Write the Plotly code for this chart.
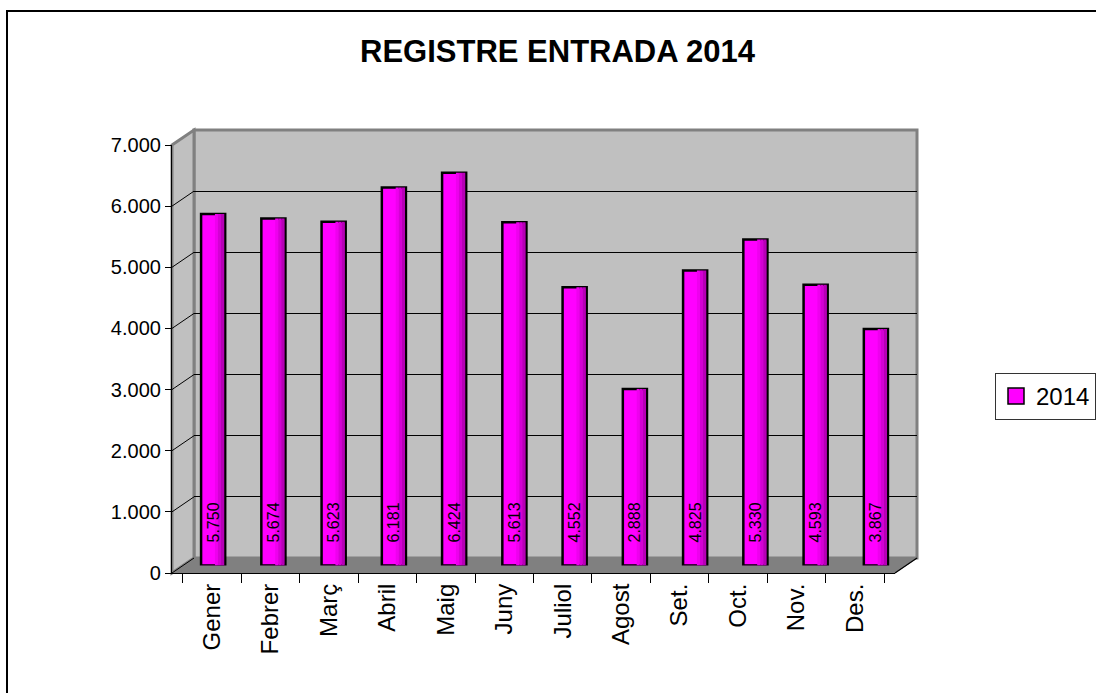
import plotly.graph_objects as go

# ---- data ----
months = ["Gener", "Febrer", "Març", "Abril", "Maig", "Juny",
          "Juliol", "Agost", "Set.", "Oct.", "Nov.", "Des."]
values_2014 = [5750, 5674, 5623, 6181, 6424, 5613, 4552, 2888, 4825, 5330, 4593, 3867]
series_name = "2014"
y_ticks = [0, 1000, 2000, 3000, 4000, 5000, 6000, 7000]
title_text = "REGISTRE ENTRADA 2014"

# ---- layout geometry (pixels) ----
W, H = 1096, 693
FX0, FX1 = 172, 895       # front plane x
FY0, FY1 = 573, 145       # front plane y for 0 / 7000
DX, DY = 22, 15           # depth offset
LBL_UP = 20               # data label lift above bar base


def px(x):
    return x / W


def py(y):
    return 1 - y / H


FONT = "Arial, Liberation Sans, sans-serif"
MAG = "#FF00FF"

fig = go.Figure()

# back wall subplot (x/y): only gridlines
fig.add_trace(go.Scatter(x=months, y=values_2014, mode="markers",
                         marker=dict(opacity=0), showlegend=False,
                         hoverinfo="skip", xaxis="x", yaxis="y"))
# front subplot (x2/y2): axes with labels
fig.add_trace(go.Scatter(x=months, y=values_2014, mode="markers",
                         marker=dict(opacity=0), showlegend=False,
                         hoverinfo="skip", xaxis="x2", yaxis="y2"))
# bars at mid depth (x3/y3)
fig.add_trace(go.Bar(x=months, y=values_2014, name=series_name,
                     width=0.4, offset=-0.2,
                     marker=dict(color=MAG, line=dict(color="black", width=2.5)),
                     xaxis="x3", yaxis="y3", showlegend=False))
shades = [(0.03, 0.08, "#EE00EE"), (0.08, 0.13, "#D400D4"), (0.13, 0.185, "#B600B6")]
for a, b, c in shades:
    fig.add_trace(go.Bar(x=months, y=values_2014, width=b - a, offset=a,
                         marker=dict(color=c, line=dict(width=0)),
                         xaxis="x3", yaxis="y3", showlegend=False,
                         hoverinfo="skip"))
# data labels (slightly lifted, own hidden axes)
fig.add_trace(go.Bar(x=months, y=values_2014, width=0.4, offset=-0.2,
                     marker=dict(color="rgba(0,0,0,0)", line=dict(width=0)),
                     texttemplate="%{y:,}", textposition="inside",
                     insidetextanchor="start", textangle=-90,
                     constraintext="none",
                     textfont=dict(family=FONT, size=16, color="black"),
                     xaxis="x4", yaxis="y4", showlegend=False, hoverinfo="skip"))
# legend entry
fig.add_trace(go.Scatter(x=[None], y=[None], mode="markers", name=series_name,
                         marker=dict(symbol="square", size=16, color=MAG,
                                     line=dict(color="black", width=1.5)),
                         xaxis="x3", yaxis="y3", showlegend=True))

common_hidden = dict(showgrid=False, zeroline=False, showline=False,
                     showticklabels=False, ticks="", fixedrange=True)

shapes = []
# outer frame
shapes.append(dict(type="rect", xref="paper", yref="paper",
                   x0=px(7), x1=px(W + 20), y0=py(11), y1=py(H + 20),
                   line=dict(color="black", width=2), fillcolor="white", layer="below"))
# back wall
shapes.append(dict(type="rect", xref="paper", yref="paper",
                   x0=px(FX0 + DX), x1=px(FX1 + DX), y0=py(FY1 - DY), y1=py(FY0 - DY),
                   fillcolor="#C0C0C0", line=dict(color="#808080", width=3), layer="below"))
# left wall
shapes.append(dict(type="path", xref="paper", yref="paper",
                   path=f"M{px(FX0)},{py(FY1)} L{px(FX0+DX)},{py(FY1-DY)} "
                        f"L{px(FX0+DX)},{py(FY0-DY)} L{px(FX0)},{py(FY0)} Z",
                   fillcolor="#C0C0C0", line=dict(color="#808080", width=3), layer="below"))
# floor
shapes.append(dict(type="path", xref="paper", yref="paper",
                   path=f"M{px(FX0)},{py(FY0)} L{px(FX0+DX)},{py(FY0-DY)} "
                        f"L{px(FX1+DX)},{py(FY0-DY)} L{px(FX1)},{py(FY0)} Z",
                   fillcolor="#808080", line=dict(color="#808080", width=1), layer="below"))
# floor right edge
shapes.append(dict(type="line", xref="paper", yref="paper",
                   x0=px(FX1), y0=py(FY0), x1=px(FX1 + DX), y1=py(FY0 - DY),
                   line=dict(color="black", width=1.2), layer="below"))
# left-wall tick lines
for v in y_ticks[:-1]:
    shapes.append(dict(type="line", xref="paper", yref="y2", ysizemode="pixel",
                       yanchor=v, x0=px(FX0), x1=px(FX0 + DX), y0=0, y1=DY,
                       line=dict(color="black", width=1), layer="below"))

fig.update_layout(
    width=W, height=H, autosize=False,
    margin=dict(l=0, r=0, t=0, b=0, pad=0, autoexpand=False),
    paper_bgcolor="white", plot_bgcolor="rgba(0,0,0,0)",
    separators=",.",
    barmode="overlay",
    font=dict(family=FONT, color="black"),
    shapes=shapes,
    showlegend=True,
    legend=dict(x=px(995), y=py(373), xanchor="left", yanchor="top",
                bgcolor="white", bordercolor="#333333", borderwidth=1,
                font=dict(family=FONT, size=24, color="black"),
                itemsizing="trace", itemwidth=30,
                tracegroupgap=0),
    annotations=[dict(text=title_text, xref="paper", yref="paper",
                      x=px(558), y=py(51), showarrow=False,
                      xanchor="center", yanchor="middle",
                      font=dict(family=FONT, size=31, color="black", weight="bold"))],
    # back wall axes
    xaxis=dict(domain=[px(FX0 + DX), px(FX1 + DX)], anchor="y",
               type="category", categoryarray=months, **common_hidden),
    yaxis=dict(domain=[py(FY0 - DY), py(FY1 - DY)], anchor="x", range=[0, 7000],
               showgrid=True, gridcolor="black", gridwidth=1,
               tickvals=y_ticks[1:-1], zeroline=False, showline=False,
               showticklabels=False, ticks="", fixedrange=True),
    # front axes
    xaxis2=dict(domain=[px(FX0), px(FX1)], anchor="y2",
                type="category", categoryarray=months,
                showgrid=False, zeroline=False, showline=True,
                linecolor="black", linewidth=1.2,
                ticks="outside", tickson="boundaries", ticklen=9,
                tickcolor="black", tickwidth=1.2,
                tickangle=-90, tickfont=dict(family=FONT, size=24, color="black"),
                fixedrange=True),
    yaxis2=dict(domain=[py(FY0), py(FY1)], anchor="x2", range=[0, 7000],
                tickvals=y_ticks, tickformat=",",
                showgrid=False, zeroline=False, showline=True,
                linecolor="black", linewidth=1.2,
                ticks="outside", ticklen=6, tickcolor="black", tickwidth=1.2,
                tickfont=dict(family=FONT, size=20, color="black"),
                fixedrange=True),
    # bar axes (mid depth)
    xaxis3=dict(domain=[px(FX0 + DX / 2), px(FX1 + DX / 2)], anchor="y3",
                type="category", categoryarray=months, **common_hidden),
    yaxis3=dict(domain=[py(FY0 - DY / 2), py(FY1 - DY / 2)], anchor="x3",
                range=[0, 7000], **common_hidden),
    # label axes (mid depth, lifted)
    xaxis4=dict(domain=[px(FX0 + DX / 2), px(FX1 + DX / 2)], anchor="y4",
                type="category", categoryarray=months, **common_hidden),
    yaxis4=dict(domain=[py(FY0 - DY / 2 - LBL_UP), py(FY1 - DY / 2 - LBL_UP)], anchor="x4",
                range=[0, 7000], **common_hidden),
)

fig.write_html("out.html", config={"displayModeBar": False},
               post_script="document.body.style.margin='0';document.body.style.overflow='hidden';")
